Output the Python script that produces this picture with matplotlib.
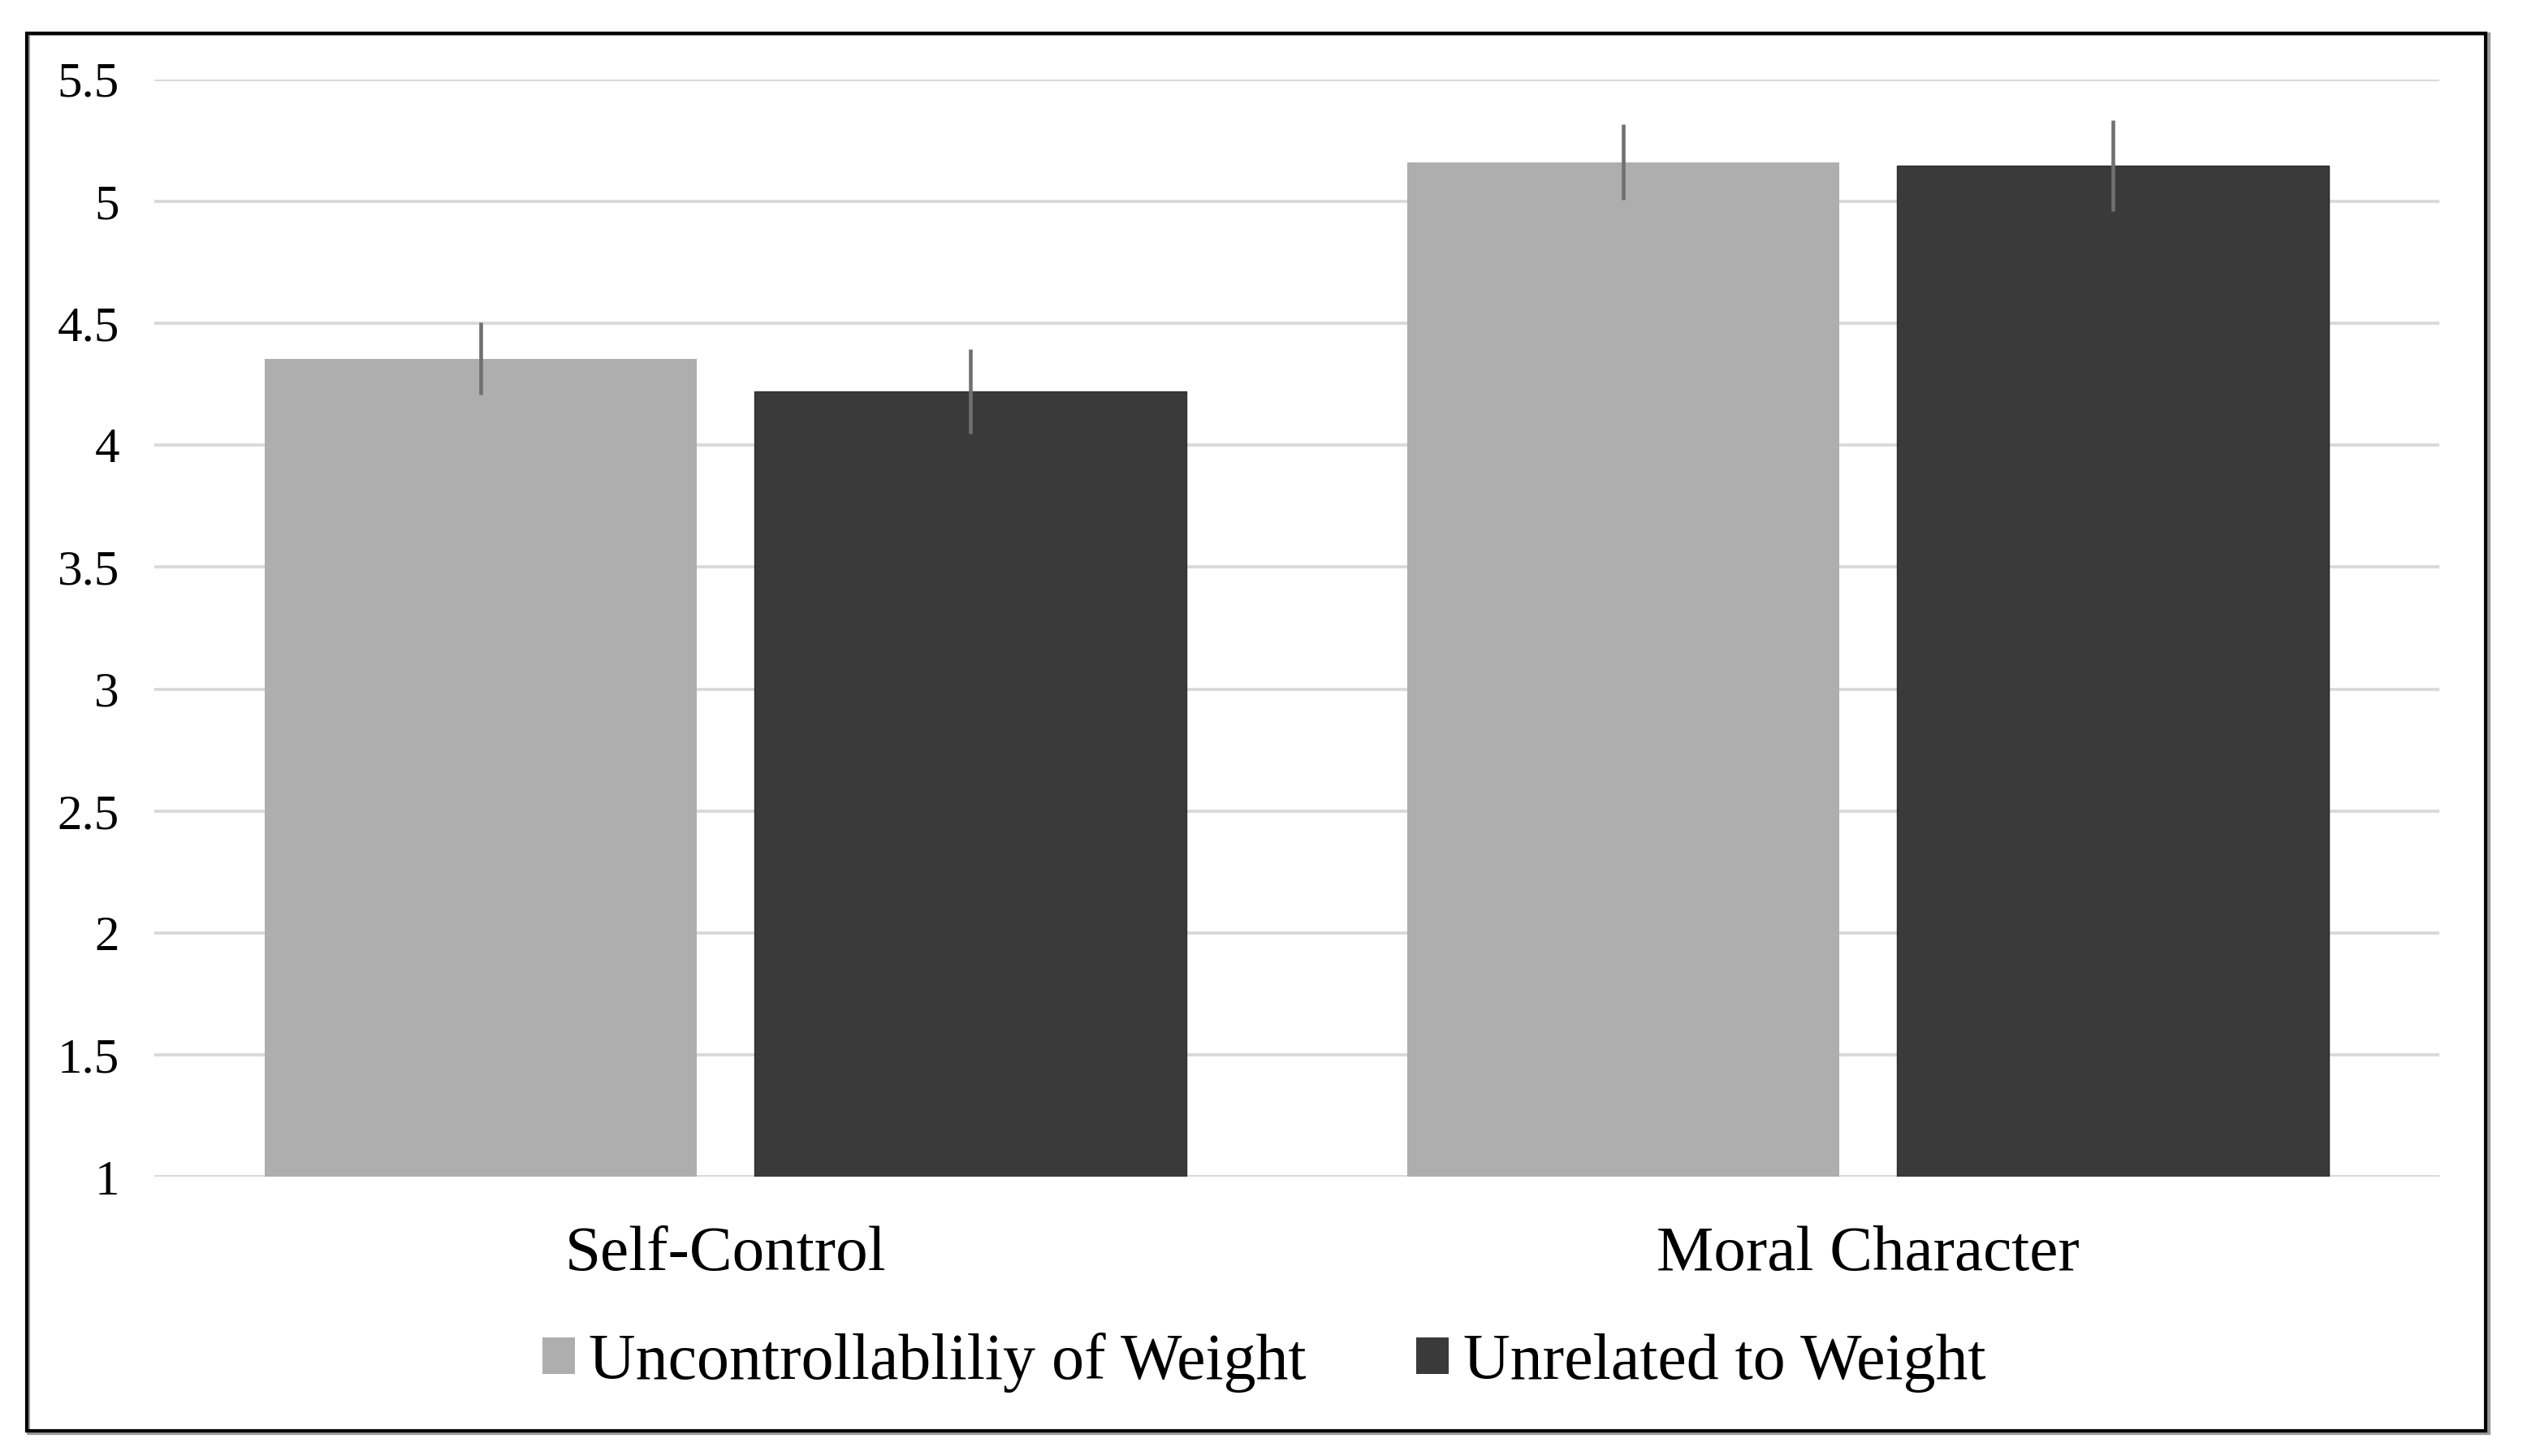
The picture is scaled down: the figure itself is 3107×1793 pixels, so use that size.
import numpy as np
import matplotlib
matplotlib.use("Agg")
import matplotlib.pyplot as plt
from matplotlib.patches import Patch, Rectangle

plt.rcParams["font.family"] = ["Liberation Serif", "DejaVu Serif"]

categories = ["Self-Control", "Moral Character"]
series_names = ["Uncontrollabliliy of Weight", "Unrelated to Weight"]
uncontrollable = [4.355, 5.16]
uncontrollable_err = [0.147, 0.155]
unrelated = [4.221, 5.145]
unrelated_err = [0.173, 0.187]
y_ticks = [1, 1.5, 2, 2.5, 3, 3.5, 4, 4.5, 5, 5.5]
y_labels = ["1", "1.5", "2", "2.5", "3", "3.5", "4", "4.5", "5", "5.5"]

LIGHT = "#aeaeae"
DARK = "#3a3a3a"
ERR = "#707070"
GRID = "#d9d9d9"

W, H = 3107, 1793
fig = plt.figure(figsize=(W / 100, H / 100), dpi=100)
ax = fig.add_axes([190 / W, 1 - 1449.3 / H, (3004 - 190) / W, (1449.3 - 97.7) / H])

x = np.arange(len(categories))
bw = 0.378
off = 0.214
ax.bar(x - off, [v - 1 for v in uncontrollable], bw, bottom=1, color=LIGHT,
       yerr=uncontrollable_err, error_kw=dict(ecolor=ERR, elinewidth=3.3, capsize=0),
       zorder=2)
ax.bar(x + off, [v - 1 for v in unrelated], bw, bottom=1, color=DARK,
       edgecolor="#2e2e2e", linewidth=1,
       yerr=unrelated_err, error_kw=dict(ecolor=ERR, elinewidth=3.3, capsize=0),
       zorder=2)

ax.set_xlim(-0.5, 1.5)
ax.set_ylim(1, 5.5)
ax.set_yticks(y_ticks)
ax.set_yticklabels(y_labels, fontsize=44)
ax.set_xticks(x)
ax.set_xticklabels(categories, fontsize=57)
ax.tick_params(axis="y", length=0, pad=31)
ax.tick_params(axis="x", length=0, pad=43)
ax.grid(axis="y", color=GRID, linewidth=2.8, zorder=0)
ax.set_axisbelow(True)
for s in ax.spines.values():
    s.set_visible(False)

handles = [Patch(facecolor=LIGHT), Patch(facecolor=DARK)]
fig.legend(handles, series_names, loc="center", bbox_to_anchor=(0.501, 1 - 1678 / H),
           ncol=2, frameon=False, fontsize=57.5, handlelength=0.5, handleheight=0.5,
           handletextpad=0.22, columnspacing=1.7, borderaxespad=0, borderpad=0)

# chart border with slight shadow
fig.patches.append(Rectangle((35 / W, 1 - 1765 / H), 3030 / W, 1723 / H,
                             transform=fig.transFigure, fill=False,
                             edgecolor="#9a9a9a", linewidth=3, zorder=0))
fig.patches.append(Rectangle((33 / W, 1 - 1762 / H), 3028 / W, 1721 / H,
                             transform=fig.transFigure, fill=False,
                             edgecolor="black", linewidth=3, zorder=1))

fig.savefig("out.png", dpi=100, facecolor="white")
